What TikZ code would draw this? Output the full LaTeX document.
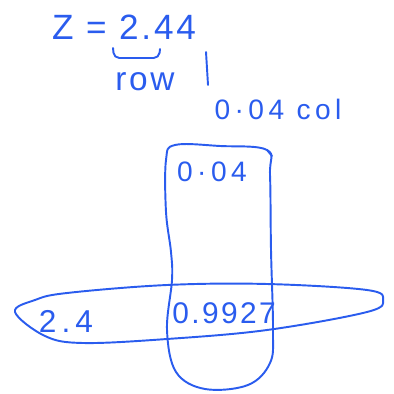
\documentclass[tikz,border=0pt]{standalone}
\usepackage{fontspec}
\usepackage{xcolor}
\usepackage{tikz}
\usetikzlibrary{positioning}
\newfontfamily\handfont[LetterSpace=8]{Liberation Sans}
\newfontfamily\widehand[LetterSpace=16]{Liberation Sans}
\definecolor{PenBlue}{RGB}{42,92,238}

\begin{document}
\begin{tikzpicture}[
    x=0.02cm, y=-0.02cm,
    ink/.style={draw=PenBlue, line width=1.1pt, line cap=round, line join=round},
    hand/.style={text=PenBlue, inner sep=0pt, font=\handfont\fontsize{19}{21}\selectfont},
    handwide/.style={hand, font=\widehand\fontsize{16}{18}\selectfont}
  ]
    \useasboundingbox (0,0) rectangle (393,394);
    % heading and hints
    \node[hand, font=\handfont\fontsize{20}{22}\selectfont] (zval) at (124,27) {Z = 2.44};
    \draw[ink, rounded corners=3pt] (113,48) -- (114,58) -- (159,58) -- (160,49);
    \node[hand] (rowlab) at (145,82) {row};
    \draw[ink] (206,52) -- (208,85);
    \node[handwide] (collab) at (278,109) {0·04 col};
    % column loop
    \draw[ink] plot[smooth cycle, tension=0.6] coordinates {(166,160) (175,145) (220,146) (267,150) (270,175) (271,250) (273,330) (270,363) (248,385) (205,389) (176,372) (167,330) (172,280) (171,252) (166,212)};
    \draw[ink] (267,150) -- (272,156);
    % row loop
    \draw[ink] plot[smooth cycle, tension=0.6] coordinates {(15,312) (35,300) (67,293) (167,285) (267,284) (367,290) (383,300) (367,312) (267,330) (167,339) (83,343) (45,336)};
    \node[handwide] (colval) at (212,172) {0·04};
    \node[handwide, font=\widehand\fontsize{18}{20}\selectfont] (rowval) at (66,321) {2.4};
    \node[hand, font=\handfont\fontsize{17}{19}\selectfont] (cell) at (224,313) {0.9927};
  \end{tikzpicture}
\end{document}
